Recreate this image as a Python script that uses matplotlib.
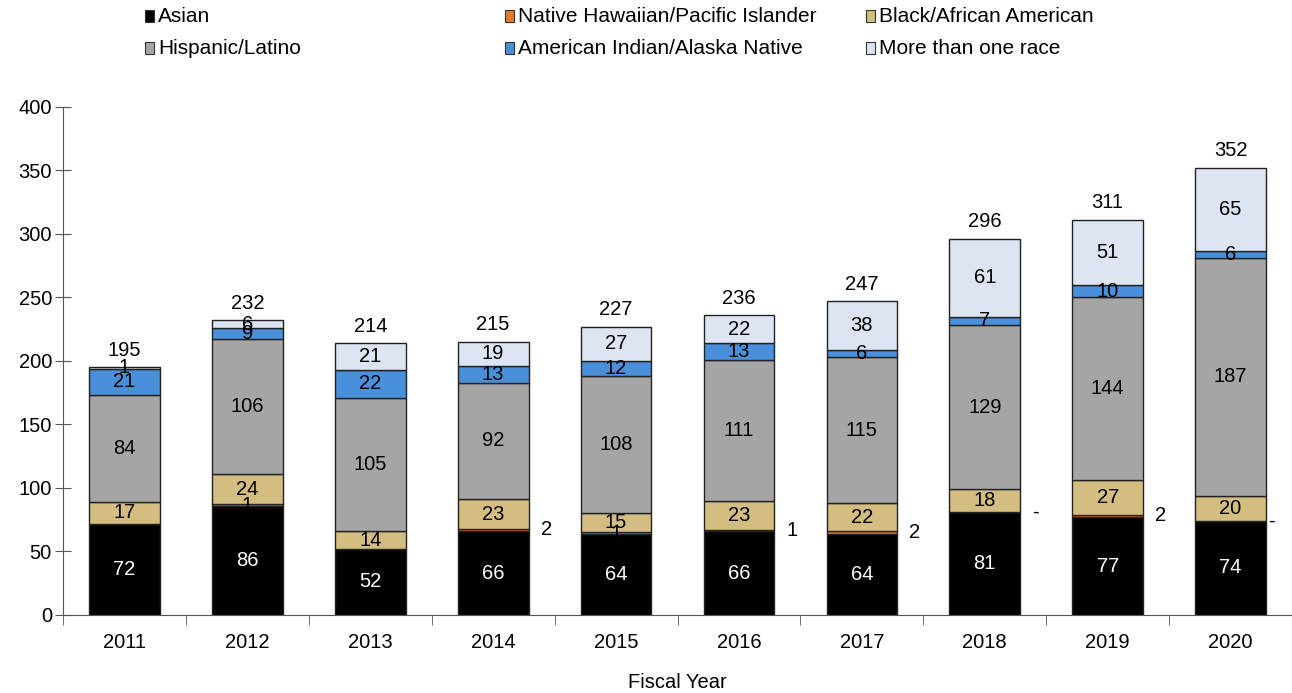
import numpy as np
import matplotlib
matplotlib.use("Agg")
import matplotlib.pyplot as plt
from matplotlib.patches import Rectangle

plt.rcParams["font.family"] = ["Liberation Sans", "DejaVu Sans"]

# ── Daten ────────────────────────────────────────────────
jahre = ["2011", "2012", "2013", "2014", "2015", "2016", "2017", "2018", "2019", "2020"]
asian = [72, 86, 52, 66, 64, 66, 64, 81, 77, 74]
hawaiian = [0, 1, 0, 2, 1, 1, 2, 0, 2, 0]
black = [17, 24, 14, 23, 15, 23, 22, 18, 27, 20]
hispanic = [84, 106, 105, 92, 108, 111, 115, 129, 144, 187]
indian = [21, 9, 22, 13, 12, 13, 6, 7, 10, 6]
mehrere = [1, 6, 21, 19, 27, 22, 38, 61, 51, 65]

# Hawaiian-Beschriftung: innen im Balken, rechts daneben oder gar nicht
hawaiian_pos = ["none", "in", "none", "out", "in", "out", "out", "out", "out", "edge"]

serien = [
    ("Asian", asian, "#000000", "white"),
    ("Native Hawaiian/Pacific Islander", hawaiian, "#E07B2A", "black"),
    ("Black/African American", black, "#D3BD80", "black"),
    ("Hispanic/Latino", hispanic, "#A5A5A5", "black"),
    ("American Indian/Alaska Native", indian, "#4A8FD9", "black"),
    ("More than one race", mehrere, "#DCE5F1", "black"),
]

FS = 14.5

fig = plt.figure(figsize=(12.92, 6.93), dpi=100)
ax = fig.add_axes([0.0488, 0.1126, 0.9512, 0.733])

x = np.arange(len(jahre))
breite = 0.575
boden = np.zeros(len(jahre))

for name, werte, farbe, textfarbe in serien:
    werte = np.array(werte, dtype=float)
    ax.bar(x, werte, breite, bottom=boden, color=farbe, edgecolor="#222222",
           linewidth=1.0, label=name)
    for i, w in enumerate(werte):
        mitte = boden[i] + w / 2
        if name.startswith("Native"):
            pos = hawaiian_pos[i]
            txt = "-" if w == 0 else f"{int(w)}"
            if pos == "in":
                ax.text(x[i], mitte, txt, ha="center", va="center", fontsize=FS)
            elif pos == "out":
                ax.text(x[i] + breite / 2 + 0.1, mitte, txt, ha="left",
                        va="center", fontsize=FS)
            elif pos == "edge":
                ax.text(x[i] + breite / 2 + 0.02, mitte, txt, ha="left",
                        va="center", fontsize=FS)
        else:
            ax.text(x[i], mitte, f"{int(w)}", ha="center", va="center",
                    fontsize=FS, color=textfarbe)
    boden += werte

# Summen über den Balken
for i, s in enumerate(boden):
    ax.text(x[i], s + 6, f"{int(s)}", ha="center", va="bottom", fontsize=FS)

# ── Achsen ───────────────────────────────────────────────
ax.set_xlim(-0.5, len(jahre) - 0.5)
ax.set_ylim(0, 400)
ax.set_yticks(range(0, 401, 50))
ax.set_xticks(x)
ax.set_xticklabels(jahre)
ax.set_xticks(np.arange(-0.5, len(jahre) - 0.5, 1), minor=True)
ax.tick_params(axis="x", which="major", length=0, pad=13, labelsize=FS)
ax.tick_params(axis="x", which="minor", length=7, direction="out",
               color="#555555")
ax.tick_params(axis="y", length=12, direction="inout", color="#555555",
               labelsize=FS, pad=2)
for seite in ["top", "right"]:
    ax.spines[seite].set_visible(False)
for seite in ["left", "bottom"]:
    ax.spines[seite].set_color("#555555")
ax.set_xlabel("Fiscal Year", fontsize=FS, labelpad=15)

# ── Legende (manuell, drei Spalten) ──────────────────────
spalten_x = [145, 505, 866]
zeilen_y = [16, 48]
W, H = 1292, 693
for k, (name, _, farbe, _) in enumerate(serien):
    px = spalten_x[k % 3]
    py = zeilen_y[k // 3]
    fig.add_artist(Rectangle((px / W, 1 - (py + 6) / H), 9 / W, 12 / H,
                             transform=fig.transFigure, facecolor=farbe,
                             edgecolor="#333333", linewidth=0.8))
    fig.text((px + 13) / W, 1 - (py + 1) / H, name, ha="left", va="center",
             fontsize=15)

fig.savefig("out.png", dpi=100)
